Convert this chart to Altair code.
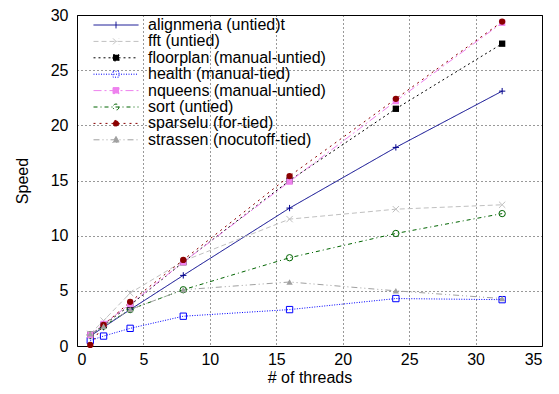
import json
import altair as alt
import pandas as pd

threads = [1, 2, 4, 8, 16, 24, 32]
series_names = [
    "alignmena (untied)t",
    "fft (untied)",
    "floorplan (manual-untied)",
    "health (manual-tied)",
    "nqueens (manual-untied)",
    "sort (untied)",
    "sparselu (for-tied)",
    "strassen (nocutoff-tied)",
]
alignmena = [0.9, 1.7, 3.3, 6.4, 12.5, 18.0, 23.1]
fft = [1.1, 2.3, 4.8, 7.7, 11.5, 12.4, 12.8]
floorplan = [1.0, 1.9, 3.7, 7.6, 15.0, 21.5, 27.4]
health = [0.5, 0.9, 1.6, 2.7, 3.3, 4.3, 4.2]
nqueens = [1.0, 2.0, 3.8, 7.6, 14.9, 22.2, 29.3]
sort_ = [1.0, 1.8, 3.3, 5.1, 8.0, 10.2, 12.0]
sparselu = [0.1, 1.9, 4.0, 7.8, 15.4, 22.4, 29.4]
strassen = [1.1, 1.8, 3.3, 5.1, 5.8, 5.0, 4.3]

values = [alignmena, fft, floorplan, health, nqueens, sort_, sparselu, strassen]
colors = ["#00008b", "#c0c0c0", "#000000", "#0000ff", "#ee82ee", "#006400", "#8b0000", "#a0a0a0"]
dashes = [[1, 0], [5, 3], [2, 3], [1, 1.5], [8, 3, 2, 3], [4, 3, 1, 3], [2, 4], [6, 3, 1, 3, 1, 3]]
shapes = [
    "M-1,0L1,0M0,-1L0,1",
    "M-1,-1L1,1M-1,1L1,-1",
    "square",
    "square",
    "square",
    "circle",
    "circle",
    "triangle-up",
]
filled_flags = [False, False, True, False, True, False, True, True]

# legend symbols: a line sample with the series marker in its middle
LINE = "M-1,0H5"
legend_marks = {
    "plus": "M2,-0.45V0.45",
    "x": "M1.6,-0.4L2.4,0.4M1.6,0.4L2.4,-0.4",
    "square": "M1.6,-0.4H2.4V0.4H1.6Z",
    "circle": "M2.4,0A0.4,0.4,0,1,1,1.6,0A0.4,0.4,0,1,1,2.4,0Z",
    "triangle": "M2,-0.45L2.45,0.35H1.55Z",
}
legend_kinds = ["plus", "x", "square", "square", "square", "circle", "circle", "triangle"]
legend_paths = [LINE + legend_marks[k] for k in legend_kinds]
legend_fills = [c if f else "transparent" for c, f in zip(colors, filled_flags)]

open_series = [s for s, f in zip(series_names, filled_flags) if not f]
filled_series = [s for s, f in zip(series_names, filled_flags) if f]

rows = []
for name, vals in zip(series_names, values):
    for t, v in zip(threads, vals):
        rows.append({"threads": t, "speed": v, "series": name, "marker": name})
df = pd.DataFrame(rows)

font = "Liberation Sans"
xs = alt.X("threads:Q", title="# of threads",
           scale=alt.Scale(domain=[0, 35], nice=False),
           axis=alt.Axis(values=[0, 5, 10, 15, 20, 25, 30, 35], labelPadding=5, titlePadding=2))
ys = alt.Y("speed:Q", title="Speed",
           scale=alt.Scale(domain=[0, 30], nice=False),
           axis=alt.Axis(values=[0, 5, 10, 15, 20, 25, 30], labelPadding=9, titlePadding=20))
color_scale = alt.Scale(domain=series_names, range=colors)
dash_scale = alt.Scale(domain=series_names, range=dashes)
shape_scale = alt.Scale(domain=series_names, range=shapes)

names_js = json.dumps(series_names)
symbols_encode = {
    "update": {
        "shape": {"signal": f"{json.dumps(legend_paths)}[indexof({names_js}, datum.value)]"},
        "fill": {"signal": f"{json.dumps(legend_fills)}[indexof({names_js}, datum.value)]"},
    }
}


class LegendLayer(alt.LayerChart):
    """Adds custom symbol encoding (line + marker) to the line layer's legend."""

    def to_dict(self, *args, **kwargs):
        d = super().to_dict(*args, **kwargs)
        enc = d["layer"][0]["encoding"]
        for ch in ("color", "strokeDash"):
            if isinstance(enc.get(ch, {}).get("legend"), dict):
                enc[ch]["legend"]["encode"] = {"symbols": symbols_encode}
        return d


lines = alt.Chart(df).mark_line(strokeWidth=1).encode(
    x=xs, y=ys,
    color=alt.Color("series:N", scale=color_scale, sort=series_names,
                    legend=alt.Legend(title=None, symbolType="M-1,0H5")),
    strokeDash=alt.StrokeDash("series:N", scale=dash_scale, sort=series_names,
                              legend=alt.Legend(title=None, symbolType="M-1,0H5")),
)

pts_open = alt.Chart(df).transform_filter(
    alt.FieldOneOfPredicate(field="series", oneOf=open_series)
).mark_point(filled=False, size=40, strokeWidth=1, opacity=1).encode(
    x=xs, y=ys,
    color=alt.Color("marker:N", scale=color_scale, legend=None),
    shape=alt.Shape("marker:N", scale=shape_scale, legend=None),
)
pts_filled = alt.Chart(df).transform_filter(
    alt.FieldOneOfPredicate(field="series", oneOf=filled_series)
).mark_point(filled=True, size=40, opacity=1).encode(
    x=xs, y=ys,
    color=alt.Color("marker:N", scale=color_scale, legend=None),
    shape=alt.Shape("marker:N", scale=shape_scale, legend=None),
)

chart = LegendLayer(layer=[lines, pts_open, pts_filled]).resolve_scale(
    color="independent", shape="independent", strokeDash="independent"
).resolve_legend(
    color="independent", shape="independent", strokeDash="independent"
).properties(
    width=465, height=331,
    autosize=alt.AutoSizeParams(type="none"),
    padding={"left": 69, "top": 7, "right": 9, "bottom": 40},
).configure_view(stroke="black", strokeWidth=1).configure_axis(
    labelFont=font, titleFont=font, labelFontSize=16, titleFontSize=16,
    titleFontWeight="normal", labelColor="black", titleColor="black",
    grid=True, gridColor="black", gridDash=[1, 3], gridOpacity=0.8,
    domain=False, ticks=False,
).configure_legend(
    orient="none", legendX=16, legendY=2, labelFont=font, labelFontSize=16,
    labelColor="black", symbolSize=225, symbolStrokeWidth=1,
    rowPadding=0.4, labelOffset=39, padding=0, labelLimit=0,
)

chart.save("out.html", embed_options={"renderer": "svg", "actions": False})
